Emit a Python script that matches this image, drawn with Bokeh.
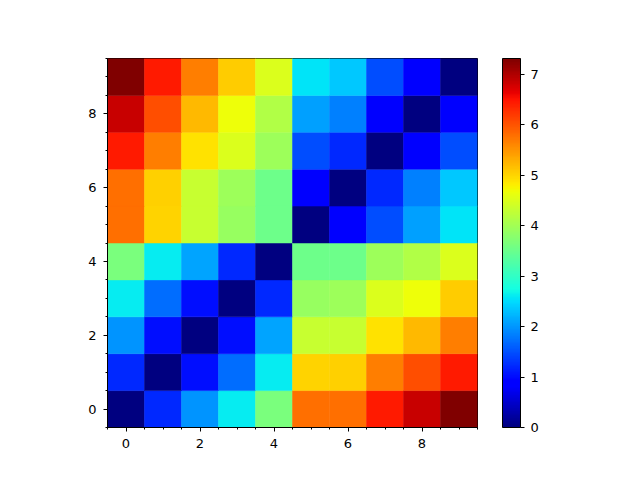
import numpy as np
from bokeh.plotting import figure
from bokeh.models import (LinearColorMapper, ColorBar, FixedTicker,
                          SingleIntervalTicker, ColumnDataSource)
from bokeh.embed import file_html
from bokeh.resources import INLINE

# distance matrix rows (row index = y, column index = x)
row_0 = [0.00, 1.20, 1.99, 2.60, 3.65, 5.77, 5.77, 6.45, 6.83, 7.31]
row_1 = [1.20, 0.00, 1.00, 1.70, 2.60, 5.00, 5.05, 5.66, 6.04, 6.45]
row_2 = [1.99, 1.00, 0.00, 1.00, 2.10, 4.34, 4.34, 4.91, 5.22, 5.66]
row_3 = [2.60, 1.70, 1.00, 0.00, 1.20, 3.90, 3.95, 4.50, 4.68, 5.07]
row_4 = [3.65, 2.60, 2.10, 1.20, 0.00, 3.52, 3.54, 3.95, 4.13, 4.50]
row_5 = [5.77, 5.00, 4.34, 3.90, 3.52, 0.00, 0.85, 1.48, 2.06, 2.56]
row_6 = [5.77, 5.05, 4.34, 3.95, 3.54, 0.85, 0.00, 1.20, 1.83, 2.35]
row_7 = [6.45, 5.66, 4.91, 4.50, 3.95, 1.48, 1.20, 0.00, 0.85, 1.48]
row_8 = [6.83, 6.04, 5.22, 4.68, 4.13, 2.06, 1.83, 0.85, 0.00, 0.90]
row_9 = [7.31, 6.45, 5.66, 5.07, 4.50, 2.56, 2.35, 1.48, 0.90, 0.00]
rows = [row_0, row_1, row_2, row_3, row_4, row_5, row_6, row_7, row_8, row_9]

vmin, vmax = 0.0, 7.31
cbar_ticks = [0, 1, 2, 3, 4, 5, 6, 7]
axis_ticks_interval = 2

# jet colormap (matplotlib definition)
t = np.linspace(0, 1, 256)
r = np.interp(t, [0, 0.35, 0.66, 0.89, 1], [0, 0, 1, 1, 0.5])
g = np.interp(t, [0, 0.125, 0.375, 0.64, 0.91, 1], [0, 0, 1, 1, 0, 0])
b = np.interp(t, [0, 0.11, 0.34, 0.65, 1], [0.5, 1, 1, 0, 0])
jet = ["#%02x%02x%02x" % (int(round(rr * 255)), int(round(gg * 255)), int(round(bb * 255)))
       for rr, gg, bb in zip(r, g, b)]

xs, ys, vals = [], [], []
for yi, row in enumerate(rows):
    for xi, v in enumerate(row):
        xs.append(xi)
        ys.append(yi)
        vals.append(v)
src = ColumnDataSource(dict(x=xs, y=ys, v=vals))

mapper = LinearColorMapper(palette=jet, low=vmin, high=vmax)

p = figure(width=624, height=464, frame_width=370, frame_height=369,
           x_range=(-0.5, 9.5), y_range=(-0.5, 9.5),
           output_backend="svg", toolbar_location=None,
           min_border_left=107, min_border_top=58, min_border_bottom=37,
           min_border_right=147)
p.rect(x="x", y="y", width=1, height=1, source=src,
       fill_color={"field": "v", "transform": mapper},
       line_color={"field": "v", "transform": mapper}, line_width=0.5)

p.grid.visible = False
p.outline_line_color = "black"
p.outline_line_width = 1
p.background_fill_color = "white"

for ax in (p.xaxis[0], p.yaxis[0]):
    ax.ticker = SingleIntervalTicker(interval=axis_ticks_interval, num_minor_ticks=4)
    ax.major_tick_out = 4
    ax.major_tick_in = 0
    ax.minor_tick_out = 2
    ax.minor_tick_in = 0
    ax.axis_line_color = "black"
    ax.major_tick_line_color = "black"
    ax.minor_tick_line_color = "black"
    ax.major_label_text_font = "DejaVu Sans"
    ax.major_label_text_font_size = "13px"
    ax.major_label_text_color = "black"
    ax.major_label_standoff = 7

cb = ColorBar(color_mapper=mapper, width=18, height=369,
              ticker=FixedTicker(ticks=cbar_ticks),
              padding=0, margin=0, location=(25, 0),
              bar_line_color="black", bar_line_width=1,
              major_tick_line_color="black", major_tick_out=4, major_tick_in=0,
              minor_tick_line_color=None,
              major_label_text_font="DejaVu Sans",
              major_label_text_font_size="13px",
              major_label_text_color="black",
              border_line_color=None, background_fill_color=None,
              label_standoff=6)
p.add_layout(cb, "right")

open("out.html", "w").write(file_html(p, INLINE))
